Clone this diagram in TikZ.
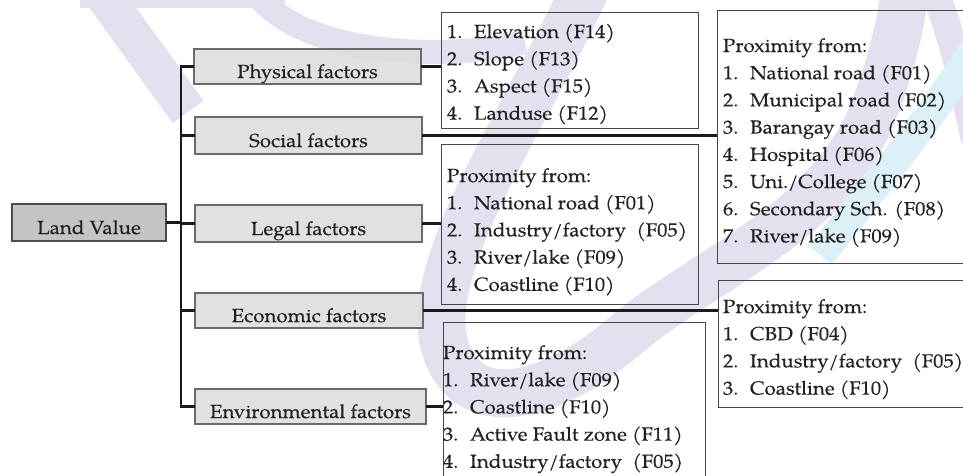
\documentclass[tikz,border=0pt]{standalone}
\usepackage{fontspec}
\setmainfont{texgyrepagella-regular.otf}[FakeStretch=1.08, FakeBold=0.25]
\usetikzlibrary{calc}

\definecolor{wmpurple}{HTML}{E5E0EF}
\definecolor{wmblue}{HTML}{DDEFF7}
\definecolor{factorfill}{HTML}{DCDCDC}
\definecolor{rootfill}{HTML}{BABABA}
\definecolor{edgegray}{HTML}{6A6A6A}
\definecolor{linkcol}{HTML}{1A1A1A}
\definecolor{inkcol}{HTML}{222222}

% one numbered entry of a list
\newcommand{\entry}[2]{\makebox[27pt][l]{#1}#2}

\begin{document}
\begin{tikzpicture}[x=1pt,y=-1pt,
  every node/.style={font=\fontsize{19}{27.2}\selectfont, text=inkcol, inner sep=0pt, outer sep=0pt},
  factor/.style={draw=edgegray, line width=1.3pt, fill=factorfill, fill opacity=0.85, text opacity=1,
                 draw opacity=1, text height=23pt, text depth=0pt},
  root/.style={factor, draw=black!70, fill=rootfill},
  listbox/.style={draw=black!72, line width=1pt},
  listtext/.style={anchor=base west},
  conn/.style={draw=linkcol, line width=2.3pt},
  wm/.style={line cap=butt}
]
\useasboundingbox (0,0) rectangle (963,476);
\clip (0,0) rectangle (963,476);

% faint logo watermark behind the chart
\draw[wm, wmpurple, line width=38pt] (100,-10) -- (188,112);
\draw[wm, wmpurple, line width=16pt] (80,0) -- (285,0);
\draw[wm, wmpurple, line width=24pt] (255,-8) .. controls (300,55) and (440,62) .. (525,42);
\draw[wm, wmpurple, line width=48pt] (585,-10) .. controls (520,130) and (410,280) .. (450,360)
      .. controls (480,420) and (560,390) .. (620,340)
      .. controls (700,270) and (820,230) .. (870,120)
      .. controls (890,70) and (900,30) .. (905,-10);
\draw[wm, wmpurple, line width=28pt] (935,-10) .. controls (955,50) .. (975,140);
\draw[wm, wmblue, line width=30pt] (980,40) .. controls (930,120) and (880,180) .. (820,255);

% root and factor boxes
\node[root, minimum width=154pt, minimum height=37pt] (lv) at (89,222.5) {Land Value};
\node[factor, minimum width=227pt, minimum height=35pt] (phy) at (307.5,66.5) {Physical factors};
\node[factor, minimum width=227pt, minimum height=37pt] (soc) at (308.5,135.5) {Social factors};
\node[factor, minimum width=227pt, minimum height=37pt] (leg) at (308.5,223.5) {Legal factors};
\node[factor, minimum width=228pt, minimum height=35pt] (eco) at (309,310.5) {Economic factors};
\node[factor, minimum width=231pt, minimum height=35pt] (env) at (310.5,406.5) {Environmental factors};

% item list frames
\node[listbox, minimum width=257pt, minimum height=116pt] (phl) at (569.5,71) {};
\node[listbox, minimum width=257pt, minimum height=160pt] (legl) at (569.5,224) {};
\node[listbox, minimum width=262pt, minimum height=178pt] (envl) at (574,411) {};
\node[listbox, minimum width=258pt, minimum height=252pt] (socl) at (846,137) {};
\node[listbox, minimum width=257pt, minimum height=127pt] (ecol) at (846.5,343.5) {};

% tree connectors
\coordinate (tx) at (181,0);
\draw[conn] (phy.west) -- (phy.west -| tx) -- (env.west -| tx) -- (env.west);
\draw[conn] (lv.east) -- (lv.east -| tx);
\foreach \f in {soc,leg,eco} \draw[conn] (\f.west -| tx) -- (\f.west);
\foreach \f/\l in {phy/phl,soc/socl,leg/legl,eco/ecol,env/envl}
  \draw[conn] (\f.east) -- (\f.east -| \l.west);

% list contents
\node[listtext] (phlt) at (447,38) {\begin{tabular}[t]{@{}l@{}}
  \entry{1.}{Elevation (F14)}\\
  \entry{2.}{Slope (F13)}\\
  \entry{3.}{Aspect (F15)}\\
  \entry{4.}{Landuse (F12)}
\end{tabular}};
\node[listtext] (soclt) at (723,52) {\begin{tabular}[t]{@{}l@{}}
  Proximity from:\\
  \entry{1.}{National road (F01)}\\
  \entry{2.}{Municipal road (F02)}\\
  \entry{3.}{Barangay road (F03)}\\
  \entry{4.}{Hospital (F06)}\\
  \entry{5.}{Uni./College (F07)}\\
  \entry{6.}{Secondary Sch. (F08)}\\
  \entry{7.}{River/lake (F09)}
\end{tabular}};
\node[listtext] (leglt) at (447,182) {\begin{tabular}[t]{@{}l@{}}
  Proximity from:\\
  \entry{1.}{National road (F01)}\\
  \entry{2.}{Industry/factory ~(F05)}\\
  \entry{3.}{River/lake (F09)}\\
  \entry{4.}{Coastline (F10)}
\end{tabular}};
\node[listtext] (ecolt) at (723,313) {\begin{tabular}[t]{@{}l@{}}
  Proximity from:\\
  \entry{1.}{CBD (F04)}\\
  \entry{2.}{Industry/factory ~(F05)}\\
  \entry{3.}{Coastline (F10)}
\end{tabular}};
\node[listtext] (envlt) at (443,359) {\begin{tabular}[t]{@{}l@{}}
  Proximity from:\\
  \entry{1.}{River/lake (F09)}\\
  \entry{2.}{Coastline (F10)}\\
  \entry{3.}{Active Fault zone (F11)}\\
  \entry{4.}{Industry/factory ~(F05)}
\end{tabular}};
\end{tikzpicture}
\end{document}
